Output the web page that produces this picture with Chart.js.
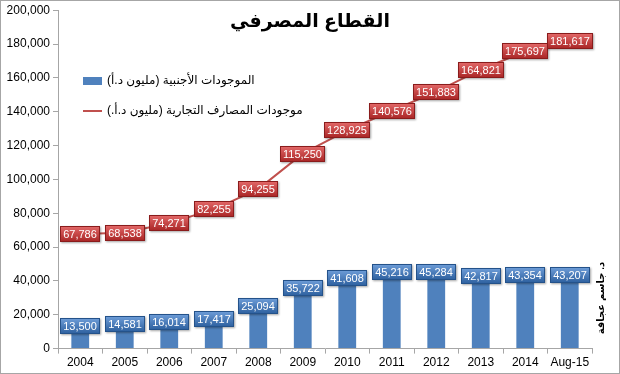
<!DOCTYPE html>
<html>
<head>
<meta charset="utf-8">
<script src="https://cdn.jsdelivr.net/npm/chart.js@4"></script>
<style>
    body { margin: 0; background: #fff; }
    #wrap { width: 620px; height: 374px; position: relative; }
</style>
</head>
<body>
<div id="wrap"><canvas id="bankChart"></canvas></div>
<script>
// ---- data ----
const years = ['2004', '2005', '2006', '2007', '2008', '2009', '2010', '2011', '2012', '2013', '2014', 'Aug-15'];
const foreignAssets = [13500, 14581, 16014, 17417, 25094, 35722, 41608, 45216, 45284, 42817, 43354, 43207];
const bankAssets = [67786, 68538, 74271, 82255, 94255, 115250, 128925, 140576, 151883, 164821, 175697, 181617];
const yTicks = [0, 20000, 40000, 60000, 80000, 100000, 120000, 140000, 160000, 180000, 200000];

const titleText = 'القطاع المصرفي';
const authorText = 'د. جاسم عجاقة';
const FONT = "'Liberation Sans', 'DejaVu Sans', sans-serif";

const fmt = v => v.toLocaleString('en-US');

// label box with gradient + soft shadow
function labelBox(ctx, x, y, text, top, bottom, edge) {
    ctx.font = '11px ' + FONT;
    const w = Math.round(ctx.measureText(text).width + 6);
    const h = 16;
    const bx = Math.round(x - w / 2), by = Math.round(y - h / 2);
    ctx.save();
    ctx.shadowColor = 'rgba(0,0,0,0.35)';
    ctx.shadowOffsetX = 1;
    ctx.shadowOffsetY = 1;
    ctx.shadowBlur = 2;
    const g = ctx.createLinearGradient(0, by, 0, by + h);
    g.addColorStop(0, top);
    g.addColorStop(1, bottom);
    ctx.fillStyle = g;
    ctx.fillRect(bx, by, w, h);
    ctx.restore();
    ctx.strokeStyle = edge;
    ctx.lineWidth = 1;
    ctx.strokeRect(bx + 0.5, by + 0.5, w - 1, h - 1);
    ctx.fillStyle = '#fff';
    ctx.textAlign = 'center';
    ctx.textBaseline = 'middle';
    ctx.fillText(text, bx + w / 2, by + h / 2 + 1);
}

const decorPlugin = {
    id: 'decor',
    afterDatasetsDraw(chart) {
        const ctx = chart.ctx;
        // bar labels
        chart.getDatasetMeta(0).data.forEach((el, i) => {
            labelBox(ctx, el.x, el.y, fmt(foreignAssets[i]), '#6f9ed9', '#2c5f9e', '#24528a');
        });
        // line labels
        chart.getDatasetMeta(1).data.forEach((el, i) => {
            labelBox(ctx, el.x, el.y, fmt(bankAssets[i]), '#e46a6a', '#a82424', '#8a1c1c');
        });
    },
    afterDraw(chart) {
        const ctx = chart.ctx;
        const area = chart.chartArea;
        ctx.save();
        // title
        ctx.fillStyle = '#000';
        ctx.font = 'bold 19px ' + FONT;
        ctx.textAlign = 'center';
        ctx.textBaseline = 'middle';
        ctx.fillText(titleText, chart.width / 2, 22);

        // legend (swatch left, arabic text to its right)
        const lx = area.left + 25;
        ctx.font = '12px ' + FONT;
        ctx.textAlign = 'left';
        ctx.fillStyle = '#4f81bd';
        ctx.fillRect(lx, 77, 19, 8);
        ctx.fillStyle = '#000';
        ctx.fillText(chart.data.datasets[0].label, lx + 24, 81);
        ctx.strokeStyle = '#c0504d';
        ctx.lineWidth = 2;
        ctx.beginPath();
        ctx.moveTo(lx, 111);
        ctx.lineTo(lx + 19, 111);
        ctx.stroke();
        ctx.fillText(chart.data.datasets[1].label, lx + 24, 111);

        // author, vertical (reads top to bottom)
        ctx.translate(area.right + 9, 298);
        ctx.rotate(-Math.PI / 2);
        ctx.font = 'bold 10px ' + FONT;
        ctx.textAlign = 'center';
        ctx.fillText(authorText, 0, 0);
        ctx.restore();

        // outer frame
        ctx.save();
        ctx.strokeStyle = '#a6a6a6';
        ctx.lineWidth = 1;
        ctx.strokeRect(0.5, 0.5, chart.width - 1, chart.height - 1);
        ctx.restore();
    }
};

new Chart(document.getElementById('bankChart').getContext('2d'), {
    data: {
        labels: years,
        datasets: [
            {
                type: 'bar',
                label: 'الموجودات الأجنبية (مليون د.أ)',
                data: foreignAssets,
                backgroundColor: '#4f81bd',
                barPercentage: 0.8,
                categoryPercentage: 0.5,
                order: 2
            },
            {
                type: 'line',
                label: 'موجودات المصارف التجارية (مليون د.أ.)',
                data: bankAssets,
                borderColor: '#c0504d',
                borderWidth: 2,
                pointRadius: 0,
                tension: 0,
                order: 1
            }
        ]
    },
    options: {
        responsive: true,
        maintainAspectRatio: false,
        animation: false,
        layout: { padding: { top: 6, right: 28, bottom: 2, left: 0 } },
        plugins: {
            legend: { display: false },
            tooltip: { enabled: false }
        },
        scales: {
            x: {
                grid: { display: true, drawOnChartArea: false, offset: true, tickLength: 5, color: '#a6a6a6' },
                border: { color: '#a6a6a6' },
                ticks: { color: '#000', font: { family: FONT, size: 12 }, padding: 2, maxRotation: 0, autoSkip: false }
            },
            y: {
                min: 0,
                max: 200000,
                afterBuildTicks: s => { s.ticks = yTicks.map(v => ({ value: v })); },
                afterFit: s => { s.width = 58; },
                grid: { display: true, drawOnChartArea: false, tickLength: 5, color: '#a6a6a6' },
                border: { color: '#a6a6a6' },
                ticks: { color: '#000', font: { family: FONT, size: 12 }, padding: 3, callback: v => fmt(v) }
            }
        }
    },
    plugins: [decorPlugin]
});
</script>
</body>
</html>
